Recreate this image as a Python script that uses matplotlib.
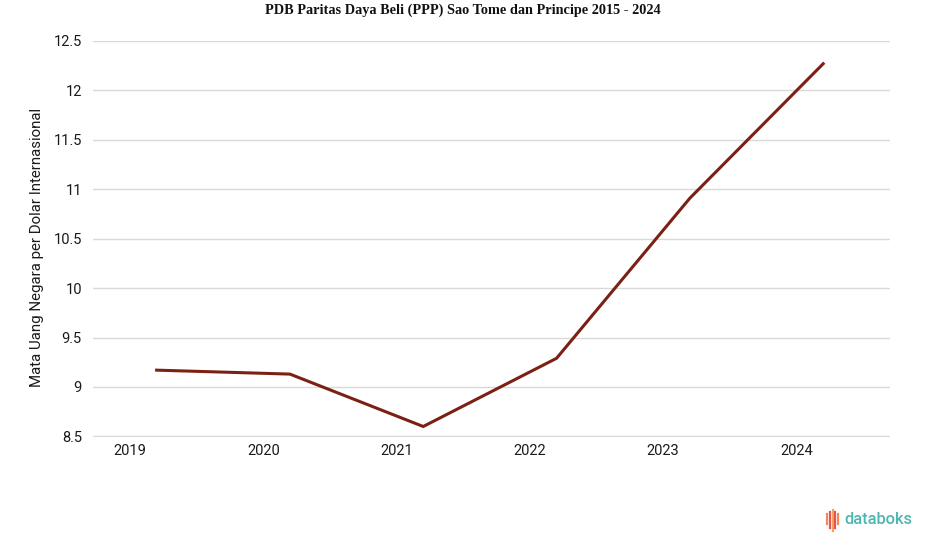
import matplotlib
matplotlib.use("Agg")
import matplotlib.pyplot as plt
import numpy as np

years = ["2019", "2020", "2021", "2022", "2023", "2024"]
values = [9.17, 9.13, 8.60, 9.29, 10.91, 12.27]
yticks = [8.5, 9, 9.5, 10, 10.5, 11, 11.5, 12, 12.5]
ytick_labels = ["8.5", "9", "9.5", "10", "10.5", "11", "11.5", "12", "12.5"]

title = "PDB Paritas Daya Beli (PPP) Sao Tome dan Principe 2015 - 2024"
ylabel = "Mata Uang Negara per Dolar Internasional"

plt.rcParams['font.family'] = ['Roboto', 'DejaVu Sans']

fig = plt.figure(figsize=(9.25, 5.47), dpi=100)
ax = fig.add_axes([0.1005, 0.2017, 0.8615, 0.7239])

x = np.arange(len(years))
ax.plot(x, values, color="#7b2114", linewidth=2.2, solid_joinstyle="miter")

ax.set_xlim(-0.4775, 5.5)
ax.set_ylim(8.497, 12.503)
ax.set_yticks(yticks)
ax.set_yticklabels(ytick_labels)
ax.set_xticks(x - 0.2)
ax.set_xticklabels(years)

ax.grid(axis="y", color="#d9d9d9", linewidth=1)
ax.set_axisbelow(True)
for s in ax.spines.values():
    s.set_visible(False)
ax.tick_params(axis="both", length=0, labelsize=10.5, colors="#1a1a1a")
ax.tick_params(axis="y", pad=8)
ax.tick_params(axis="x", pad=5)

fig.text(0.5, 1 - 4 / 547, title, ha="center", va="top", fontsize=10.3,
         fontweight="bold", family=["Liberation Serif", "DejaVu Serif"], color="#111111")
fig.text(0.0395, 1 - 247 / 547, ylabel, rotation=90, ha="center", va="center",
         fontsize=10.8, color="#1a1a1a")

# watermark
fig.text(0.913, 1 - 519 / 547, "databoks", ha="left", va="center", fontsize=11.8,
         color="#4db6b1", fontweight="medium")
icon_colors = ["#f08a5d", "#e8534a", "#f4a261", "#e8534a", "#f08a5d"]
icon_top = [514, 512, 510, 512, 514]
icon_bot = [524, 528, 531, 528, 524]
for i, (c, t, b) in enumerate(zip(icon_colors, icon_top, icon_bot)):
    xl = (827 + i * 2.8) / 925
    fig.add_artist(plt.Line2D([xl, xl], [1 - t / 547, 1 - b / 547],
                              color=c, linewidth=1.6, transform=fig.transFigure))

fig.savefig("out.png", dpi=100)
